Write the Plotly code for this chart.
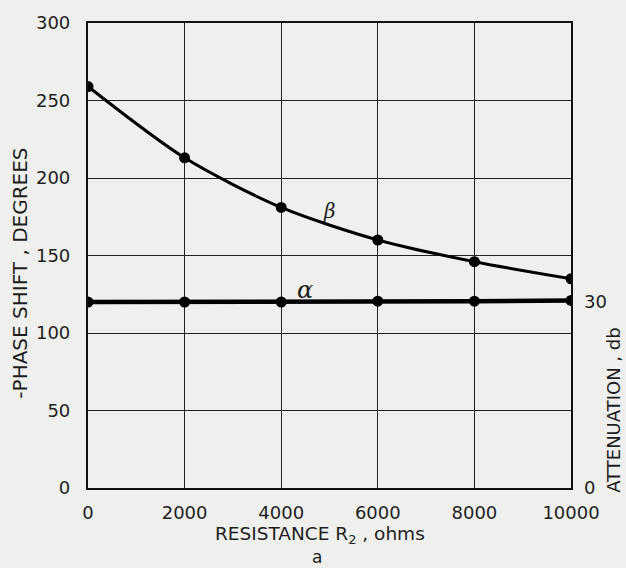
import plotly.graph_objects as go

resistance = [0, 2000, 4000, 6000, 8000, 10000]
beta_deg = [259, 213, 181, 160, 146, 135]
alpha_deg = [120, 120, 120, 120.5, 120.5, 121]

x_ticks = [0, 2000, 4000, 6000, 8000, 10000]
y_ticks = [0, 50, 100, 150, 200, 250, 300]
att_ticks = [0, 30]

FONT = "DejaVu Sans"
BG = "#efefed"
INK = "#1e1e1e"

fig = go.Figure()
fig.add_trace(go.Scatter(
    x=resistance, y=beta_deg, mode="lines+markers",
    line=dict(color="black", width=3, shape="spline", smoothing=0.8),
    marker=dict(color="black", size=11), showlegend=False))
fig.add_trace(go.Scatter(
    x=resistance, y=alpha_deg, mode="lines+markers",
    line=dict(color="black", width=4.5),
    marker=dict(color="black", size=11), showlegend=False))
# invisible trace for right axis
fig.add_trace(go.Scatter(x=[0], y=[0], yaxis="y2", mode="markers",
                         marker=dict(opacity=0), showlegend=False, hoverinfo="skip"))

fig.add_annotation(x=5000, y=179, text="<i>β</i>", showarrow=False,
                   font=dict(family="DejaVu Serif", size=20, color=INK))
fig.add_annotation(x=4500, y=128, text="<i>α</i>", showarrow=False,
                   font=dict(family="DejaVu Serif", size=24, color=INK))

fig.add_annotation(xref="paper", yref="paper", x=0.48, xanchor="center", y=0, yshift=-47,
                   yanchor="middle", text="RESISTANCE R<sub>2</sub> , ohms", showarrow=False,
                   font=dict(family=FONT, size=18.5, color=INK))
fig.add_annotation(xref="paper", yref="paper", x=0.475, xanchor="center", y=0, yshift=-69,
                   yanchor="middle", text="a", showarrow=False,
                   font=dict(family=FONT, size=17, color=INK))
fig.add_annotation(xref="paper", yref="paper", x=1.0, xshift=43, xanchor="center",
                   y=0.166, yanchor="middle",
                   text="ATTENUATION , db", textangle=-90, showarrow=False,
                   font=dict(family=FONT, size=18, color=INK))
fig.add_annotation(xref="paper", yref="paper", x=0.0, xshift=-68, xanchor="center",
                   y=0.461, yanchor="middle",
                   text="-PHASE SHIFT , DEGREES", textangle=-90, showarrow=False,
                   font=dict(family=FONT, size=20, color=INK))

fig.update_layout(
    width=626, height=568,
    margin=dict(l=88, r=55, t=17, b=80),
    paper_bgcolor=BG, plot_bgcolor=BG,
    font=dict(family=FONT, size=18, color=INK),
    xaxis=dict(range=[0, 10000], tickvals=x_ticks, ticktext=[str(v) for v in x_ticks],
               showgrid=True, gridcolor="#222", gridwidth=1.3,
               showline=True, linecolor="#111", linewidth=2.2, mirror=True,
               ticks="", zeroline=False, tickfont=dict(size=18), ticklabelstandoff=7),
    yaxis=dict(range=[0, 300], tickvals=y_ticks,
               showgrid=True, gridcolor="#222", gridwidth=1.3,
               showline=True, linecolor="#111", linewidth=2.2, mirror=True,
               ticks="", zeroline=False, tickfont=dict(size=18), ticklabelstandoff=12),
    yaxis2=dict(range=[0, 75], tickvals=att_ticks, overlaying="y", side="right",
                showgrid=False, zeroline=False, showline=False, ticks="",
                tickfont=dict(size=18), ticklabelstandoff=12),
)

fig.write_html("out.html", config={"displayModeBar": False},
               post_script="document.body.style.margin='0';document.body.style.background='%s';" % BG)
